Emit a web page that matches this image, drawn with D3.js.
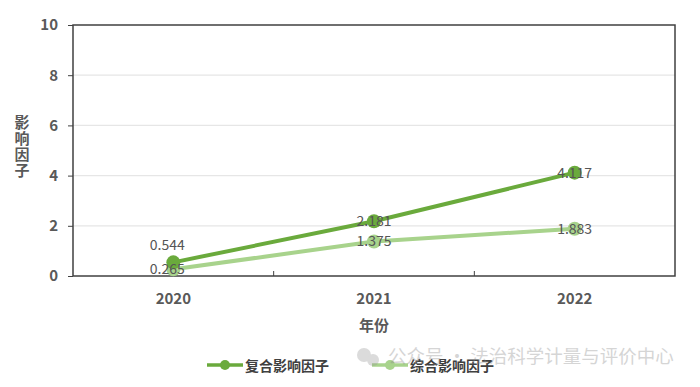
<!DOCTYPE html>
<html>
<head>
<meta charset="utf-8">
<script src="https://cdn.jsdelivr.net/npm/d3@7"></script>
<style>
  body { margin: 0; background: #fff; }
  svg text { font-family: "Noto Sans CJK SC", "Noto Sans", sans-serif; }
</style>
</head>
<body>
<div id="chart"></div>
<script>
// data
const years = ["2020", "2021", "2022"];
const compositeValues = [0.544, 2.181, 4.117];   // 复合影响因子
const combinedValues = [0.265, 1.375, 1.883];    // 综合影响因子
const seriesNames = ["复合影响因子", "综合影响因子"];
const yTicks = [0, 2, 4, 6, 8, 10];

const width = 700, height = 387;
const margin = { left: 73, right: 25, top: 25, bottom: 111 };

const svg = d3.select("#chart").append("svg")
    .attr("width", width).attr("height", height);

const x = d3.scaleBand().domain(years).range([margin.left, width - margin.right]);
const y = d3.scaleLinear().domain([0, 10]).range([height - margin.bottom, margin.top]);

const colors = ["#6aaa3c", "#a8d38c"];

// gridlines
svg.append("g").selectAll("line").data(yTicks.filter(d => d > 0 && d < 10)).join("line")
    .attr("x1", margin.left).attr("x2", width - margin.right)
    .attr("y1", d => y(d)).attr("y2", d => y(d))
    .attr("stroke", "#e6e6e6").attr("stroke-width", 1.2);

// plot box
svg.append("rect")
    .attr("x", margin.left).attr("y", y(10))
    .attr("width", width - margin.right - margin.left).attr("height", y(0) - y(10))
    .attr("fill", "none").attr("stroke", "#404040").attr("stroke-width", 1.5);

// y axis
const yAxis = svg.append("g").attr("transform", `translate(${margin.left},0)`)
    .call(d3.axisLeft(y).tickValues(yTicks).tickSize(5).tickPadding(10));
yAxis.select(".domain").remove();
yAxis.selectAll("line").attr("stroke", "#404040");
yAxis.selectAll("text").attr("font-size", 15).attr("font-weight", "bold").attr("fill", "#595959");

// x axis: ticks between categories, pointing inward
const bounds = years.slice(1).map(d => x(d));
svg.append("g").selectAll("line").data(bounds).join("line")
    .attr("x1", d => d).attr("x2", d => d)
    .attr("y1", y(0)).attr("y2", y(0) - 5)
    .attr("stroke", "#404040");
svg.append("g").selectAll("text").data(years).join("text")
    .attr("x", d => x(d) + x.bandwidth() / 2).attr("y", y(0) + 28)
    .attr("text-anchor", "middle").attr("font-size", 15).attr("font-weight", "bold")
    .attr("fill", "#595959").text(d => d);

// axis titles
svg.append("text").attr("x", (margin.left + width - margin.right) / 2).attr("y", 331)
    .attr("text-anchor", "middle").attr("font-size", 15).attr("font-weight", "bold")
    .attr("fill", "#595959").text("年份");
svg.append("text")
    .attr("x", 22).attr("y", 147)
    .attr("text-anchor", "middle")
    .style("writing-mode", "vertical-rl").style("text-orientation", "upright")
    .attr("font-size", 15).attr("font-weight", "bold").attr("letter-spacing", 1)
    .attr("fill", "#595959").text("影响因子");

// lines and points
const cx = d => x(d) + x.bandwidth() / 2;
const line = d3.line().x((d, i) => cx(years[i])).y(d => y(d));

[combinedValues, compositeValues].forEach((vals, k) => {
    const col = k === 0 ? colors[1] : colors[0];
    svg.append("path").datum(vals).attr("d", line)
        .attr("fill", "none").attr("stroke", col).attr("stroke-width", 4)
        .attr("stroke-linecap", "round");
    svg.append("g").selectAll("circle").data(vals).join("circle")
        .attr("cx", (d, i) => cx(years[i])).attr("cy", d => y(d))
        .attr("r", 7).attr("fill", col);
});

// data labels
function labels(vals, dy0) {
    svg.append("g").selectAll("text").data(vals).join("text")
        .attr("x", (d, i) => cx(years[i]) - (i === 0 ? 6 : 0))
        .attr("y", (d, i) => y(d) + (i === 0 ? dy0 : 5))
        .attr("text-anchor", "middle").attr("font-size", 14).attr("fill", "#555")
        .text(d => d3.format(".3f")(d));
}
labels(compositeValues, -12);
labels(combinedValues, 5);

// legend
const legend = svg.append("g");
[0, 1].forEach(k => {
    const lx = k === 0 ? 207 : 372;
    const g = legend.append("g").attr("transform", `translate(${lx},365)`);
    g.append("line").attr("x1", 0).attr("x2", 36).attr("stroke", colors[k]).attr("stroke-width", 3.5);
    g.append("circle").attr("cx", 18).attr("r", 5).attr("fill", colors[k]);
    g.append("text").attr("x", 38).attr("y", 5.5).attr("font-size", 14).attr("font-weight", "bold")
        .attr("fill", "#404040").text(seriesNames[k]);
});

// watermark
const wm = svg.append("g").attr("opacity", 0.35);
wm.append("circle").attr("cx", 364).attr("cy", 355).attr("r", 7).attr("fill", "#999");
wm.append("circle").attr("cx", 373).attr("cy", 360).attr("r", 6).attr("fill", "#999");
wm.append("text").attr("x", 388).attr("y", 363).attr("font-size", 18.5).attr("fill", "#888")
    .text("公众号 · 法治科学计量与评价中心");
</script>
</body>
</html>
